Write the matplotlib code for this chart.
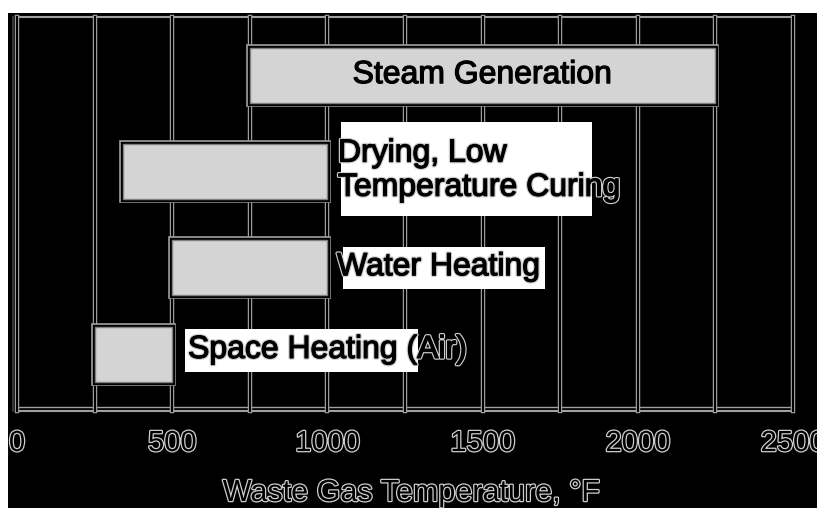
import matplotlib
matplotlib.use("Agg")
import matplotlib.pyplot as plt
import matplotlib.patheffects as pe
from matplotlib.patches import Rectangle

plt.rcParams['font.family'] = ['Liberation Sans', 'DejaVu Sans']

# temperature ranges of each use (deg F)
uses = ['Steam Generation', 'Drying, Low\nTemperature Curing', 'Water Heating', 'Space Heating (Air)']
t_low = [750, 340, 500, 250]
t_high = [2250, 1000, 1000, 500]
rows = [3.41, 2.43, 1.46, 0.57]
bar_h = 0.56

# where the label text sits and the white paper patch behind it
label_x = [1500, 1034, 1031, 551]
label_y = [3.41, 2.44, 1.46, 0.62]
box_x0 = [None, 1044, 1050, 541]
box_x1 = [None, 1852, 1701, 1292]
box_y0 = [None, 1.98, 1.239, 0.396]
box_y1 = [None, 2.934, 1.665, 0.832]

ticks = [0, 500, 1000, 1500, 2000, 2500]
grid_x = [0, 250, 500, 750, 1000, 1250, 1500, 1750, 2000, 2250, 2500]

fig = plt.figure(figsize=(8.17, 5.08), dpi=100, facecolor='white')
# black scan area (white margin top and left)
fig.patches.append(Rectangle((8/817, 0), 1, 1 - 13/508, transform=fig.transFigure,
                             facecolor='black', edgecolor='none', zorder=-5))
ax = fig.add_axes([17/817, 1 - 411/508, 776/817, 394/508])
ax.set_zorder(2)
ax.set_facecolor('black')
ax.set_xlim(0, 2500)
ax.set_ylim(0, 4)

gray = '#a0a0a0'
for gx in grid_x:
    ax.axvline(gx, color=gray, lw=3.2, zorder=1, clip_on=False)
    ax.axvline(gx, color='black', lw=1.5, zorder=1.1, clip_on=False)
ax.axhline(4, color=gray, lw=1.5, zorder=1, clip_on=False)
ax.axhline(0, color=gray, lw=1.5, zorder=1, clip_on=False)
ax.axhline(0.04, color=gray, lw=1.0, zorder=1, clip_on=False)
ax.plot([-12, -12], [0, 4], color='#404040', lw=1.2, clip_on=False)
for s in ax.spines.values():
    s.set_visible(False)

widths = [h - l for l, h in zip(t_low, t_high)]
ax.barh(rows, widths, left=t_low, height=bar_h, facecolor='black', edgecolor=gray, lw=5.5, zorder=2)
ax.barh(rows, widths, left=t_low, height=bar_h, facecolor='black', edgecolor='black', lw=3.8, zorder=2.1)
ax.barh(rows, widths, left=t_low, height=bar_h, facecolor='#d4d4d4', edgecolor='#808080', lw=1, zorder=2.2)

# scanned text: heavy black letters, light rim where they run onto the black
heavy = [pe.Stroke(linewidth=2.6, foreground='#cfcfcf'), pe.Stroke(linewidth=0.9, foreground='black'), pe.Normal()]
plain_heavy = [pe.Stroke(linewidth=0.9, foreground='black'), pe.Normal()]
outline = [pe.Stroke(linewidth=1.8, foreground='#cfcfcf'), pe.Normal()]
for i, name in enumerate(uses):
    if box_x0[i] is not None:
        ax.add_patch(Rectangle((box_x0[i], box_y0[i]), box_x1[i] - box_x0[i], box_y1[i] - box_y0[i],
                               facecolor='white', edgecolor='none', zorder=3))
    ha = 'center' if i == 0 else 'left'
    ax.text(label_x[i], label_y[i], name, ha=ha, va='center', fontsize=23, color='black',
            linespacing=1.18, zorder=4, path_effects=heavy if i else plain_heavy)

ax.set_yticks([])
ax.set_xticks(ticks)
ax.set_xticklabels([str(t) for t in ticks], fontsize=21, color='black')
for lab in ax.get_xticklabels():
    lab.set_path_effects(outline)
ax.tick_params(axis='x', length=0, pad=13)

fig.text(411/817, 1 - 493/508, 'Waste Gas Temperature, \u00b0F', ha='center', va='center',
         fontsize=22, color='black', path_effects=outline)

fig.savefig('out.png', dpi=100, facecolor=fig.get_facecolor())
